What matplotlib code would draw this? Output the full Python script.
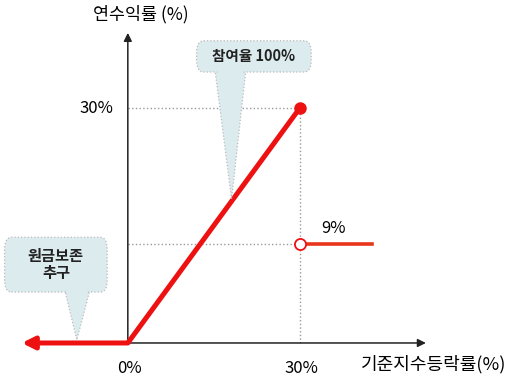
import matplotlib.pyplot as plt
from matplotlib.patches import FancyBboxPatch, Polygon

plt.rcParams['font.family'] = ['Noto Sans CJK KR', 'DejaVu Sans']

# payoff structure (index change % -> annual return %)
loss_x = [0, -18.5]          # principal protected region, arrow to the left
loss_y = [0, 0]
rise_x = [0, 30]             # participation 100%
rise_y = [0, 30]
cap_x = [30, 42.6]           # knock-out level
cap_y = [12.6, 12.6]         # drawn position of the 9% line (schematic)
cap_label = "9%"

x_ticks = [0, 30]
x_tick_labels = ["0%", "30%"]
y_ticks = [30]
y_tick_labels = ["30%"]

RED = "#ee1111"
FILL = "#dcebee"

fig = plt.figure(figsize=(5.09, 3.79), dpi=100)
ax = fig.add_axes([0, 0, 1, 1])
ax.set_xlim(-22.3, 66.5)
ax.set_ylim(-4.6, 43.8)
ax.axis("off")

# axes with arrows
ax.annotate("", xy=(52.0, 0), xytext=(0, 0),
            arrowprops=dict(arrowstyle="-|>", color="#222222", lw=1.1,
                            mutation_scale=12, shrinkA=0, shrinkB=0))
ax.annotate("", xy=(0, 39.6), xytext=(0, 0),
            arrowprops=dict(arrowstyle="-|>", color="#222222", lw=1.1,
                            mutation_scale=12, shrinkA=0, shrinkB=0))

# dotted guides
ax.plot([0, rise_x[1]], [rise_y[1]] * 2, ls=":", color="#999999", lw=1)
ax.plot([rise_x[1]] * 2, [0, rise_y[1]], ls=":", color="#999999", lw=1)
ax.plot([0, cap_x[0]], [cap_y[0]] * 2, ls=":", color="#999999", lw=1)

# payoff lines
ax.plot(rise_x, rise_y, color=RED, lw=3.6, solid_capstyle="butt", zorder=4)
ax.annotate("", xy=(loss_x[1], loss_y[1]), xytext=(loss_x[0], loss_y[0]),
            arrowprops=dict(arrowstyle="-|>", color=RED, lw=3.6,
                            mutation_scale=18, shrinkA=0, shrinkB=0), zorder=4)
ax.plot(cap_x, cap_y, color="#e8361c", lw=2.6, zorder=4)
ax.plot(rise_x[1], rise_y[1], "o", color=RED, ms=8, zorder=5)
ax.plot(cap_x[0], cap_y[0], "o", mfc="white", mec=RED, mew=1.3, ms=8, zorder=5)

# tick labels
for x, lab in zip(x_ticks, x_tick_labels):
    ax.text(x + 0.3, -3.2, lab, ha="center", va="center", fontsize=12)
for y, lab in zip(y_ticks, y_tick_labels):
    ax.text(-5.4, y, lab, ha="center", va="center", fontsize=12)
ax.text(cap_x[0] + 5.8, cap_y[0] + 2.0, cap_label, ha="center", va="center",
        fontsize=12)

# axis titles
ax.text(2.2, 42.0, "연수익률 (%)", ha="center", va="center", fontsize=12.5)
ax.text(53.4, -2.7, "기준지수등락률(%)", ha="center", va="center", fontsize=13)


# callouts
def callout(box, tip, base, text, fs):
    x0, y0, x1, y1 = box
    poly = Polygon([(base[0], y0 + 0.3), tip, (base[1], y0 + 0.3)], closed=True,
                   fc=FILL, ec="#bbbbbb", ls=":", lw=0.9, zorder=6)
    ax.add_patch(poly)
    rect = FancyBboxPatch((x0, y0), x1 - x0, y1 - y0,
                          boxstyle="round,pad=0,rounding_size=1.2",
                          fc=FILL, ec="#bbbbbb", ls=":", lw=0.9, zorder=7,
                          mutation_aspect=1.3)
    ax.add_patch(rect)
    cover = Polygon([(base[0] + 0.2, y0 + 0.5), (base[0] + 0.6, y0 - 0.4),
                     (base[1] - 0.6, y0 - 0.4), (base[1] - 0.2, y0 + 0.5)],
                    closed=True, fc=FILL, ec="none", zorder=8)
    ax.add_patch(cover)
    ax.text((x0 + x1) / 2, (y0 + y1) / 2, text, ha="center", va="center",
            fontsize=fs, fontweight="bold", color="#222222", zorder=9,
            linespacing=1.1)


callout((12.0, 34.6, 32.0, 38.6), (18.1, 18.4), (15.2, 20.6), "참여율 100%", 10.5)
callout((-21.5, 6.5, -3.6, 13.5), (-8.9, 0.4), (-11.0, -6.6), "원금보존\n추구", 11)

fig.savefig("out.png", dpi=100)
